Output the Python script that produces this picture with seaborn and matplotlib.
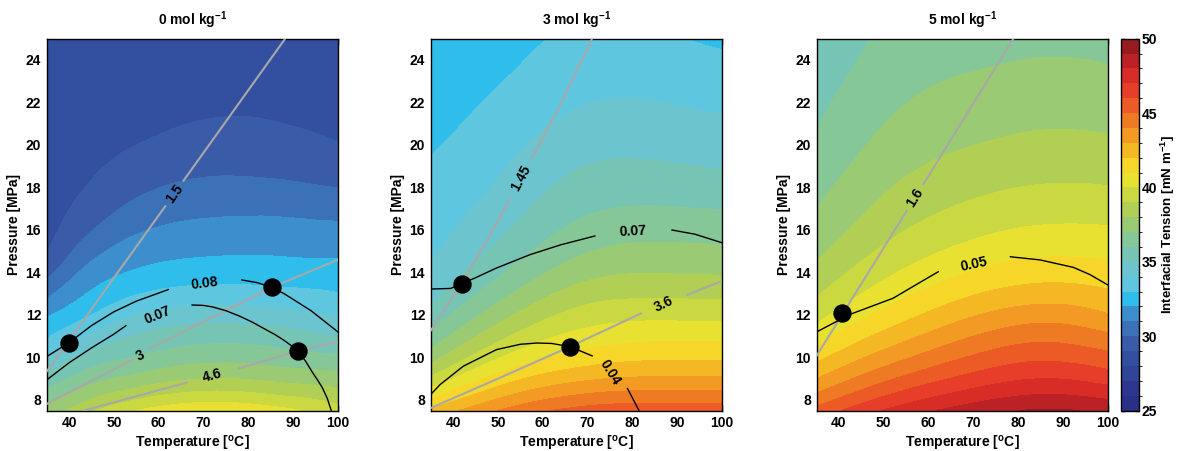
import numpy as np
import matplotlib
matplotlib.use('Agg')
import matplotlib.pyplot as plt
import matplotlib.tri as mtri
from matplotlib.colors import ListedColormap, BoundaryNorm
import seaborn as sns

sns.set_style('ticks')
plt.rcParams['font.family'] = ['Liberation Sans', 'DejaVu Sans']
plt.rcParams['mathtext.fontset'] = 'custom'
plt.rcParams['mathtext.rm'] = 'Liberation Sans'
plt.rcParams['mathtext.bf'] = 'Liberation Sans:bold'
for key in ['text.color', 'axes.labelcolor', 'xtick.color', 'ytick.color', 'axes.edgecolor']:
    plt.rcParams[key] = 'black'

nan = np.nan

# grid the tension values were read on
temps = [35, 45, 55, 70, 85, 100]
pressures = [7.5, 9, 10.5, 12, 13.5, 15, 17.5, 20, 22.5, 25]

# interfacial tension [mN/m], one row per temperature, along pressures
ift_0 = [
    [37.3, 35.4, 33.43, 31.9, 30.18, 28.95, 28.6, 28.35, 28.2, 28.1],
    [38.83, 36.63, 34.78, 33.0, 31.77, 30.64, 29.24, 28.75, 28.45, 28.2],
    [40.0, 37.33, 35.56, 34.0, 32.5, 31.47, 30.0, 29.0, 28.6, 28.3],
    [40.8, 38.0, 36.12, 34.55, 32.92, 31.84, 30.49, 29.35, 28.75, 28.4],
    [40.4, 37.8, 36.0, 34.4, 32.87, 31.89, 30.5, 29.33, 28.75, 28.38],
    [39.35, 37.43, 35.58, 33.87, 32.69, 31.82, 30.29, 29.05, 28.6, 28.3],
]
ift_3 = [
    [42.2, 39.2, 36.89, 35.36, 34.39, 33.85, 33.38, 32.9, 32.45, 32.1],
    [43.46, 40.76, 38.57, 36.86, 35.58, 34.75, 33.9, 33.34, 32.84, 32.36],
    [44.49, 41.93, 39.85, 38.18, 36.79, 35.76, 34.65, 33.92, 33.29, 32.74],
    [45.4, 42.86, 40.9, 39.45, 38.09, 36.94, 35.63, 34.64, 33.83, 33.24],
    [45.6, 43.14, 41.25, 39.73, 38.36, 37.27, 35.81, 34.71, 33.86, 33.14],
    [45.6, 43.13, 41.25, 39.67, 38.3, 37.2, 35.69, 34.5, 33.65, 32.83],
]
ift_5 = [
    [45.35, 43.0, 41.13, 39.64, 38.59, 37.75, 36.86, 36.17, 35.7, 35.25],
    [46.53, 44.23, 42.33, 40.79, 39.64, 38.73, 37.69, 36.92, 36.34, 35.87],
    [47.5, 45.24, 43.31, 41.73, 40.5, 39.53, 38.36, 37.53, 36.87, 36.38],
    [48.54, 46.38, 44.56, 42.92, 41.48, 40.35, 38.98, 37.99, 37.25, 36.61],
    [49.1, 47.0, 45.24, 43.56, 42.0, 40.79, 39.31, 38.24, 37.46, 36.74],
    [48.8, 46.57, 44.77, 43.07, 41.78, 40.73, 39.28, 38.2, 37.35, 36.7],
]

# gray iso-lines (T, P), nan = gap for the label
gray_0 = [
    ([35, 61.5, nan, 65.5, 88.2], [9.33, 17.13, nan, 18.31, 25.0]),
    ([35, 54.0, nan, 58.1, 85.2, 100], [7.81, 9.88, nan, 10.43, 13.3, 14.6]),
    ([43.2, 66.3, nan, 77.8, 91.0, 100], [7.5, 8.82, nan, 9.48, 10.3, 10.74]),
]
gray_3 = [
    ([35, 41.9, 47, 52.7, nan, 57.6, 64, 71], [11.25, 13.47, 15.3, 17.45, nan, 19.4, 21.9, 25.0]),
    ([35, 50, 66.1, 82, nan, 92.2, 100], [7.62, 9.0, 10.51, 12.08, nan, 12.94, 13.6]),
]
gray_5 = [
    ([35, 55.1, nan, 58.8, 78.9], [10.07, 16.9, nan, 18.15, 25.0]),
]

# black iso-lines
black_0 = [
    ([35, 40, 45, 50, 55, 62.2, nan, 78.5, 82, 85.2, 88, 91, 94, 97, 100],
     [10.04, 10.7, 11.5, 12.15, 12.65, 13.2, nan, 13.65, 13.52, 13.3, 13.0, 12.6, 12.2, 11.7, 11.2]),
    ([35, 40, 45, 50, 52.7, nan, 67.4, 70, 72, 75, 78, 81, 84, 86, 88, 89.5, 91, 92.7,
      94.3, 95.5, 96.5, 97.6, 98.5],
     [8.94, 9.75, 10.45, 11.1, 11.5, nan, 12.47, 12.45, 12.38, 12.2, 11.95, 11.65, 11.3,
      11.07, 10.8, 10.57, 10.3, 9.85, 9.3, 8.92, 8.58, 8.08, 7.5]),
]
black_3 = [
    ([35, 39.5, 41.9, 45, 49.7, 57.2, 64, 71.7, nan, 88.8, 94, 100],
     [13.22, 13.25, 13.47, 13.75, 14.21, 14.84, 15.3, 15.72, nan, 16.0, 15.8, 15.4]),
    ([35, 37.1, 42.3, 49.7, 55, 58.7, 62, 66.1, 71.1, nan, 78.9, 81.5],
     [8.25, 8.72, 9.59, 10.37, 10.62, 10.68, 10.66, 10.51, 10.07, nan, 8.55, 7.5]),
]
black_5 = [
    ([35, 42.5, 52.1, 57, 62.2, nan, 78.2, 84.9, 92.3, 96, 100],
     [11.2, 12.03, 12.79, 13.4, 14.04, nan, 14.74, 14.59, 14.24, 13.9, 13.41]),
]

# black points
dots_0 = ([40, 85.2, 91], [10.7, 13.3, 10.32])
dots_3 = ([41.9, 66.1], [13.47, 10.51])
dots_5 = ([40.7], [12.11])

# inline labels: text, T, P, angle
labels_0 = [("1.5", 63.5, 17.72, 54), ("3", 56, 10.1, 27), ("4.6", 72, 9.15, 15),
            ("0.08", 70.3, 13.5, 7), ("0.07", 59.8, 12.0, 22)]
labels_3 = [("1.45", 55.2, 18.45, 62), ("3.6", 87.1, 12.5, 26),
            ("0.07", 80.2, 15.95, 3), ("0.04", 75.0, 9.3, -58)]
labels_5 = [("1.6", 57.0, 17.5, 58), ("0.05", 70.2, 14.4, 12)]

titles = [r'0 mol kg$^{\mathbf{-1}}$', r'3 mol kg$^{\mathbf{-1}}$', r'5 mol kg$^{\mathbf{-1}}$']

band_colors = ['#2a2f88', '#2d3790', '#304498', '#3350a0', '#3a5ca8', '#3b72b7', '#3c8fcc',
               '#2fbdeb', '#5ec6df', '#6cc5ce', '#76c5b4', '#85c796', '#9aca73', '#b1cf55',
               '#cad842', '#e8e131', '#f6d628', '#f5b825', '#f29a24', '#ef7a24', '#ec5a26',
               '#e63e28', '#d82c27', '#bb2226', '#961c20']
levels = np.arange(25, 51, 1)
cmap = ListedColormap(band_colors)
norm = BoundaryNorm(levels, cmap.N)

nT, nP = len(temps), len(pressures)
TT, PP = np.meshgrid(temps, pressures)
tris = []
for j in range(nP - 1):
    for i in range(nT - 1):
        a = j * nT + i
        tris += [[a, a + 1, a + nT + 1], [a, a + nT + 1, a + nT]]
tri = mtri.Triangulation(TT.ravel(), PP.ravel(), np.array(tris))
refiner = mtri.UniformTriRefiner(tri)

fig = plt.figure(figsize=(11.81, 4.51), dpi=100)
lefts = [0.0395, 0.3646, 0.6914]
panels = [(ift_0, gray_0, black_0, dots_0, labels_0),
          (ift_3, gray_3, black_3, dots_3, labels_3),
          (ift_5, gray_5, black_5, dots_5, labels_5)]

for k, (ift, gray, black, dots, labels) in enumerate(panels):
    ax = fig.add_axes([lefts[k], 0.0896, 0.2467, 0.8245])
    z = np.array(ift).T.ravel()
    interp = mtri.CubicTriInterpolator(tri, z, kind='min_E')
    tri_f, z_f = refiner.refine_field(z, triinterpolator=interp, subdiv=4)
    cs = ax.tricontourf(tri_f, np.clip(z_f, 25.01, 49.99), levels=levels, cmap=cmap, norm=norm)

    for t, p in gray:
        ax.plot(t, p, color='#a8a8a8', lw=1.5, zorder=3)
    for t, p in black:
        ax.plot(t, p, color='black', lw=1.0, zorder=3)
    sns.scatterplot(x=dots[0], y=dots[1], ax=ax, s=150, color='black', edgecolor='black',
                    zorder=5, legend=False)
    for txt, t, p, rot in labels:
        ax.text(t, p, txt, rotation=rot, ha='center', va='center', rotation_mode='anchor',
                fontsize=10, fontweight='bold', zorder=6)

    ax.set_xlim(35, 100)
    ax.set_ylim(7.5, 25)
    ax.set_xticks(range(40, 101, 10))
    ax.set_yticks(range(8, 25, 2))
    ax.tick_params(direction='in', top=True, right=True, length=4, width=1,
                   labelsize=10, pad=4)
    for lab in ax.get_xticklabels() + ax.get_yticklabels():
        lab.set_fontweight('bold')
    for sp in ax.spines.values():
        sp.set_linewidth(1.0)
    ax.set_title(titles[k], fontsize=10, fontweight='bold', pad=10)
    ax.set_xlabel(r'Temperature [$^{\mathbf{o}}$C]', fontsize=10, fontweight='bold', labelpad=3)
    ax.set_ylabel('Pressure [MPa]', fontsize=10, fontweight='bold', labelpad=3)

cax = fig.add_axes([0.9492, 0.0896, 0.0152, 0.8245])
cb = fig.colorbar(cs, cax=cax, ticks=[25, 30, 35, 40, 45, 50])
cb.outline.set_linewidth(1.0)
cax.tick_params(direction='in', left=True, right=True, length=3, width=1, labelsize=10, pad=2)
for lab in cax.get_yticklabels():
    lab.set_fontweight('bold')
cb.set_label(r'Interfacial Tension [mN m$^{\mathbf{-1}}$]', fontsize=9.5, fontweight='bold', labelpad=1)

fig.savefig('out.png', dpi=100)
